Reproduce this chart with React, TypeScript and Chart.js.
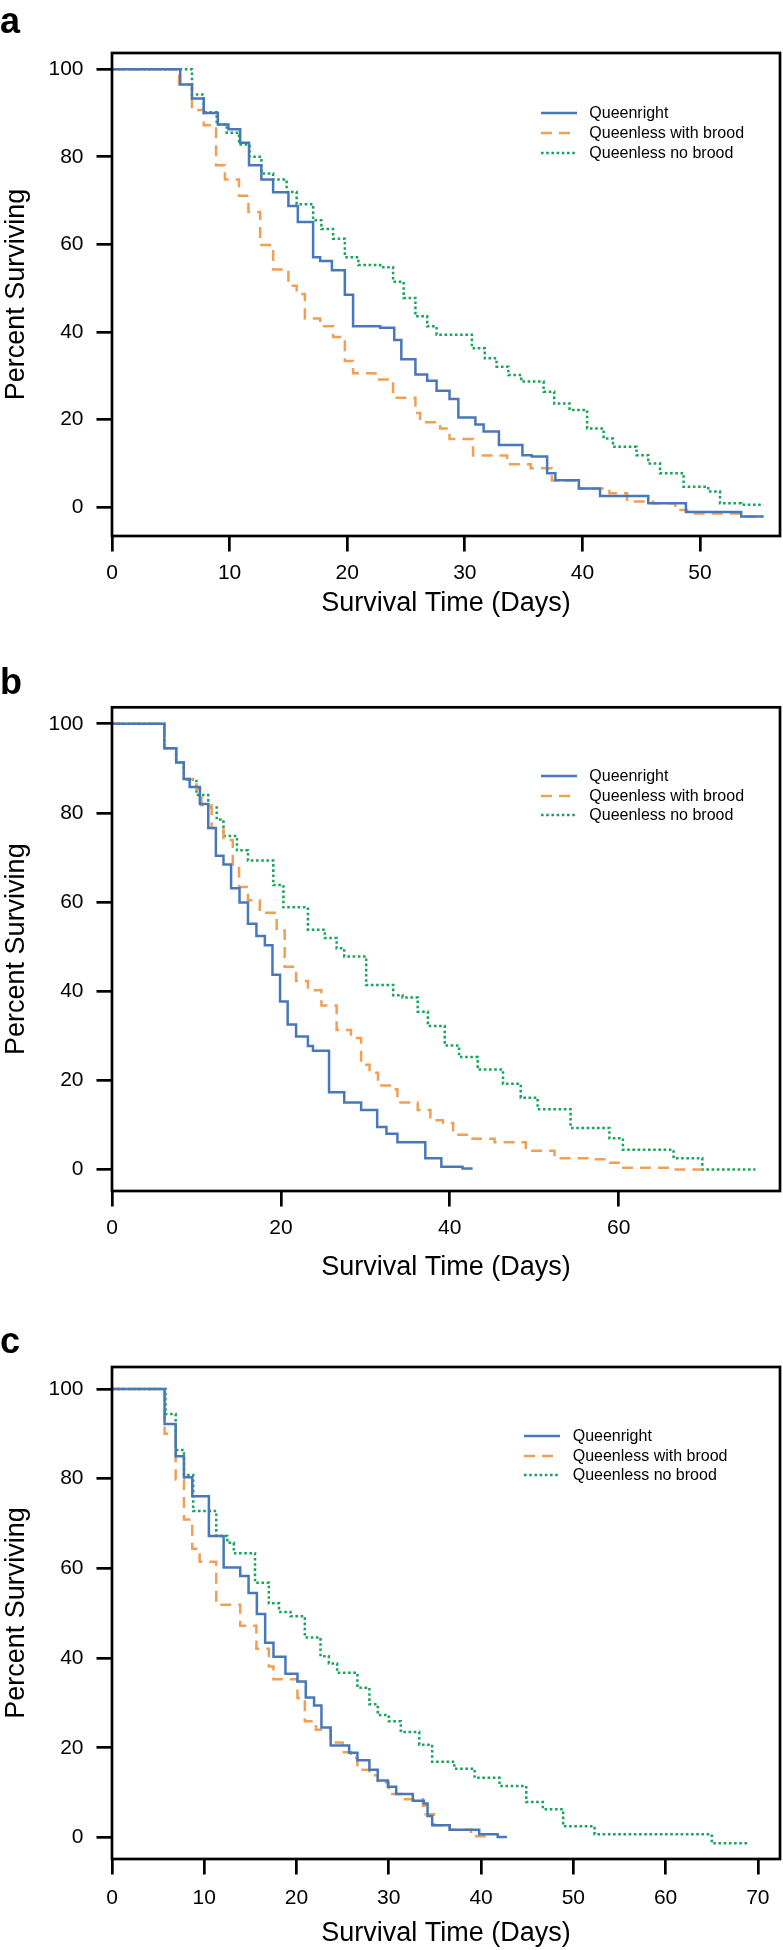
import React, { useEffect, useRef } from 'react';
import { Chart, registerables } from 'chart.js';

Chart.register(...registerables);

const FONT = '"Liberation Sans", Arial, Helvetica, sans-serif';

const seriesNames = ['Queenright', 'Queenless with brood', 'Queenless no brood'];
const seriesColors = ['#4878BA', '#F0A055', '#17A659'];
const seriesDashes: number[][] = [[], [11, 7], [2.6, 2.6]];

const yTickValues = [0, 20, 40, 60, 80, 100];
const xTicksA = [0, 10, 20, 30, 40, 50];
const xTicksB = [0, 20, 40, 60];
const xTicksC = [0, 10, 20, 30, 40, 50, 60, 70];

// ---- Panel a ----
const aQueenrightDays = [0, 5.8, 6.8, 7.8, 9.0, 9.9, 10.9, 11.65, 12.7, 13.7, 15.0, 15.8, 17.1, 17.7, 18.7, 19.8, 20.5, 22.8, 24.0, 24.6, 25.8, 26.8, 27.6, 28.7, 29.45, 30.9, 31.6, 32.9, 34.9, 35.7, 37.0, 37.7, 39.7, 41.5, 45.6, 48.8, 53.5, 55.4];
const aQueenrightPct = [100, 96.5, 93.3, 90.0, 87.4, 86.3, 83.2, 78.1, 74.8, 71.9, 68.8, 65.1, 57.1, 56.2, 54.1, 48.5, 41.3, 41.0, 38.2, 33.8, 30.3, 28.9, 26.6, 24.7, 20.5, 18.9, 17.3, 14.2, 11.9, 11.6, 7.8, 6.2, 4.3, 2.6, 0.9, -1.1, -2.1, -2.1];
const aWithBroodDays = [0, 5.7, 6.8, 7.8, 8.85, 9.6, 10.8, 11.6, 12.6, 13.7, 15.0, 15.7, 16.4, 17.7, 18.8, 19.8, 20.5, 22.4, 23.9, 25.8, 26.2, 27.9, 28.7, 30.7, 33.6, 35.6, 37.4, 39.7, 42.3, 43.8, 46.0, 47.9, 48.9, 53.5, 55.4];
const aWithBroodPct = [100, 96.5, 90.7, 87.2, 78.1, 74.8, 71.1, 67.4, 59.9, 54.3, 50.6, 48.7, 43.1, 41.3, 38.9, 33.4, 30.6, 29.2, 25.0, 21.5, 19.4, 18.0, 15.6, 11.8, 9.8, 8.9, 6.1, 4.3, 3.2, 1.3, 0.9, -0.6, -1.4, -2.1, -2.1];
const aNoBroodDays = [0, 6.8, 7.8, 8.9, 9.75, 10.8, 11.7, 12.7, 13.7, 14.85, 15.7, 17.1, 17.8, 18.8, 19.8, 20.95, 22.8, 23.9, 24.8, 25.8, 26.8, 27.6, 30.6, 31.7, 32.7, 33.7, 34.8, 36.7, 37.6, 38.9, 40.4, 41.8, 42.6, 44.6, 45.6, 46.6, 48.6, 50.7, 51.7, 53.5, 55.4];
const aNoBroodPct = [100, 94.2, 90.2, 87.4, 85.5, 82.8, 80.0, 76.2, 74.8, 72.0, 69.2, 65.5, 63.5, 61.3, 57.1, 55.3, 54.8, 51.5, 47.8, 43.6, 41.3, 39.4, 36.3, 34.0, 32.1, 30.2, 28.7, 26.4, 23.7, 22.2, 18.0, 15.7, 13.8, 11.9, 10.0, 7.8, 4.7, 3.6, 0.9, 0.6, 0.6];

// ---- Panel b ----
const bQueenrightDays = [0, 6.2, 7.6, 8.5, 9.2, 10.4, 11.4, 12.3, 13.2, 14.1, 15.1, 16.1, 17.1, 18.1, 19.0, 19.9, 20.8, 21.8, 23.2, 23.8, 25.7, 27.5, 29.5, 31.4, 32.5, 33.8, 37.1, 39.0, 41.5, 42.7];
const bQueenrightPct = [100, 94.5, 91.3, 87.6, 85.8, 82.0, 76.6, 70.4, 68.4, 63.1, 59.9, 55.1, 52.4, 50.3, 43.7, 37.7, 32.5, 29.8, 27.7, 26.6, 17.3, 15.0, 13.3, 9.5, 8.0, 6.1, 2.5, 0.6, 0.2, 0.2];
const bWithBroodDays = [0, 6.2, 7.6, 8.5, 10.0, 10.6, 11.8, 13.2, 14.3, 15.05, 16.1, 17.5, 19.5, 20.45, 21.8, 23.2, 24.8, 26.6, 28.3, 29.5, 30.5, 31.5, 33.3, 33.8, 36.2, 37.7, 39.2, 40.4, 42.7, 45.3, 49.0, 52.4, 56.5, 58.8, 60.0, 66.0, 69.9];
const bWithBroodPct = [100, 94.5, 91.3, 87.6, 85.3, 81.7, 76.6, 73.9, 68.4, 63.4, 60.4, 57.6, 53.6, 45.5, 42.3, 40.2, 36.8, 31.3, 29.5, 23.5, 21.7, 18.8, 18.0, 15.0, 13.3, 11.0, 10.4, 7.8, 6.9, 6.1, 4.2, 2.5, 2.3, 1.5, 0.35, 0.0, 0.0];
const bNoBroodDays = [0, 6.2, 7.6, 8.5, 10.0, 11.4, 12.4, 13.2, 14.8, 16.1, 19.1, 20.3, 23.2, 25.2, 26.6, 27.5, 30.1, 33.3, 34.4, 36.2, 37.4, 39.4, 41.1, 43.3, 46.3, 48.4, 50.4, 54.3, 58.9, 60.5, 66.5, 69.9, 76.2];
const bNoBroodPct = [100, 94.5, 91.3, 87.5, 84.0, 81.2, 78.5, 74.8, 71.6, 69.3, 63.8, 58.8, 53.8, 51.9, 49.6, 47.8, 41.4, 39.1, 38.6, 35.4, 32.2, 27.8, 25.2, 22.4, 19.2, 16.1, 13.5, 9.3, 7.0, 4.4, 2.5, 0.0, 0.0];

// ---- Panel c ----
const cQueenrightDays = [0, 5.7, 6.9, 7.8, 8.7, 10.5, 12.1, 13.9, 14.8, 15.7, 16.6, 17.5, 18.8, 20.1, 21.0, 21.9, 22.7, 23.7, 25.7, 26.6, 27.9, 28.8, 29.9, 30.8, 32.6, 33.8, 34.2, 34.7, 36.6, 39.8, 41.8, 42.8];
const cQueenrightPct = [100, 92.2, 85.0, 80.3, 76.1, 67.2, 60.2, 58.3, 54.5, 49.8, 43.4, 40.3, 36.5, 34.8, 31.2, 29.4, 24.5, 20.5, 18.9, 17.2, 15.1, 12.7, 11.3, 9.7, 8.2, 7.6, 4.8, 2.7, 1.7, 0.7, 0.1, 0.1];
const cWithBroodDays = [0, 5.7, 6.9, 7.8, 8.7, 9.5, 11.3, 13.9, 15.65, 17.0, 17.5, 20.1, 20.9, 22.1, 23.7, 25.0, 25.9, 26.6, 27.9, 28.8, 30.0, 31.3, 33.7, 34.0, 34.9, 36.6, 38.9, 41.1];
const cWithBroodPct = [100, 90.0, 79.8, 70.9, 64.4, 61.5, 51.9, 47.2, 42.1, 38.1, 35.3, 31.1, 25.9, 24.0, 21.2, 19.0, 17.7, 15.1, 13.9, 12.3, 9.7, 8.5, 7.1, 5.2, 2.7, 1.7, 0.3, 0.3];
const cNoBroodDays = [0, 5.8, 6.9, 7.8, 8.8, 11.3, 12.5, 13.2, 15.5, 17.0, 18.1, 19.35, 20.9, 22.6, 23.5, 24.4, 26.6, 27.9, 28.8, 30.0, 31.3, 33.3, 34.7, 37.1, 39.3, 42.0, 44.9, 46.7, 48.9, 52.3, 65.0, 69.0];
const cNoBroodPct = [100, 94.4, 86.4, 80.8, 72.8, 67.2, 65.7, 63.4, 56.8, 52.2, 50.3, 49.3, 44.6, 40.4, 38.8, 36.7, 33.4, 29.7, 27.3, 25.9, 23.5, 20.7, 16.9, 15.3, 13.3, 11.5, 7.9, 6.3, 2.5, 0.7, -1.3, -1.3];

const boxPlugin = {
  id: 'frameBox',
  afterDatasetsDraw(chart: any) {
    const { ctx, chartArea: a } = chart;
    ctx.save();
    ctx.strokeStyle = '#000';
    ctx.lineWidth = 2.7;
    ctx.setLineDash([]);
    ctx.strokeRect(a.left, a.top, a.right - a.left, a.bottom - a.top);
    ctx.restore();
  },
};

type PanelProps = {
  top: number;
  height: number;
  padTop: number;
  xAxisH: number;
  xMax: number;
  yMin: number;
  yMax: number;
  xTicks: number[];
  tickPadX: number;
  days: number[][];
  pct: number[][];
};

function Panel(p: PanelProps) {
  const ref = useRef<HTMLCanvasElement>(null);
  useEffect(() => {
    const datasets = p.days.map((d, i) => ({
      label: seriesNames[i],
      data: d.map((x, j) => ({ x, y: p.pct[i][j] })),
      borderColor: seriesColors[i],
      backgroundColor: seriesColors[i],
      borderWidth: 2.5,
      borderDash: seriesDashes[i],
      borderCapStyle: 'butt',
      borderJoinStyle: 'miter',
      pointRadius: 0,
      pointHoverRadius: 0,
      stepped: 'before',
      fill: false,
      tension: 0,
    }));
    const chart = new Chart(ref.current as HTMLCanvasElement, {
      type: 'line',
      data: { datasets } as any,
      options: {
        animation: false,
        responsive: false,
        maintainAspectRatio: false,
        devicePixelRatio: 1,
        events: [],
        layout: { padding: { top: p.padTop, right: 3, left: 0, bottom: 0 } },
        plugins: { legend: { display: false }, tooltip: { enabled: false }, title: { display: false } },
        scales: {
          x: {
            type: 'linear',
            min: 0,
            max: p.xMax,
            afterBuildTicks: (s: any) => {
              s.ticks = p.xTicks.map((v) => ({ value: v }));
            },
            afterFit: (s: any) => {
              s.height = p.xAxisH;
            },
            ticks: {
              font: { family: FONT, size: 21 },
              color: '#000',
              padding: p.tickPadX,
              maxRotation: 0,
              autoSkip: false,
              callback: (v: any) => String(v),
            },
            grid: { drawOnChartArea: false, drawTicks: true, tickLength: 15.5, color: '#000', lineWidth: 2.7 },
            border: { display: false },
            title: { display: true, text: 'Survival Time (Days)', font: { family: FONT, size: 27 }, color: '#000', padding: 0 },
          },
          y: {
            type: 'linear',
            min: p.yMin,
            max: p.yMax,
            afterBuildTicks: (s: any) => {
              s.ticks = yTickValues.map((v) => ({ value: v }));
            },
            afterFit: (s: any) => {
              s.width = 112;
            },
            ticks: {
              font: { family: FONT, size: 21 },
              color: '#000',
              padding: 13,
              autoSkip: false,
              callback: (v: any) => String(v),
            },
            grid: { drawOnChartArea: false, drawTicks: true, tickLength: 15.5, color: '#000', lineWidth: 2.7 },
            border: { display: false },
            title: { display: true, text: 'Percent Surviving', font: { family: FONT, size: 27 }, color: '#000', padding: 0 },
          },
        },
      } as any,
      plugins: [boxPlugin],
    });
    return () => chart.destroy();
  }, []);
  return (
    <canvas
      ref={ref}
      width={783}
      height={p.height}
      style={{ position: 'absolute', left: 0, top: p.top, width: 783, height: p.height, display: 'block' }}
    />
  );
}

function Legend({ x1, textX, rows }: { x1: number; textX: number; rows: number[] }) {
  return (
    <>
      {seriesNames.map((name, i) => (
        <div
          key={name}
          style={{
            position: 'absolute',
            left: x1,
            top: rows[i] - 10,
            height: 20,
            width: 260,
            display: 'flex',
            alignItems: 'center',
            zIndex: 2,
          }}
        >
          <svg width={textX - x1} height={20} style={{ flex: 'none', display: 'block' }}>
            <line
              x1={0}
              y1={10}
              x2={36}
              y2={10}
              stroke={seriesColors[i]}
              strokeWidth={2.5}
              strokeDasharray={seriesDashes[i].length ? seriesDashes[i].join(' ') : undefined}
            />
          </svg>
          <span style={{ fontFamily: FONT, fontSize: 16, lineHeight: '20px', color: '#000', whiteSpace: 'nowrap' }}>{name}</span>
        </div>
      ))}
    </>
  );
}

function Letter({ text, top }: { text: string; top: number }) {
  return (
    <div
      style={{
        position: 'absolute',
        left: 0,
        top,
        fontFamily: FONT,
        fontWeight: 'bold',
        fontSize: 36,
        lineHeight: '36px',
        color: '#000',
        zIndex: 2,
      }}
    >
      {text}
    </div>
  );
}

export default function App() {
  return (
    <div style={{ position: 'absolute', left: 0, top: 0, width: 783, height: 1950, background: '#fff', overflow: 'hidden' }}>
      <Panel
        top={0}
        height={620}
        padTop={53}
        xAxisH={84}
        xMax={56.8}
        yMin={-6.55}
        yMax={103.7}
        xTicks={xTicksA}
        tickPadX={9.5}
        days={[aQueenrightDays, aWithBroodDays, aNoBroodDays]}
        pct={[aQueenrightPct, aWithBroodPct, aNoBroodPct]}
      />
      <Panel
        top={640}
        height={644}
        padTop={67.3}
        xAxisH={93}
        xMax={79.1}
        yMin={-4.85}
        yMax={103.7}
        xTicks={xTicksB}
        tickPadX={9}
        days={[bQueenrightDays, bWithBroodDays, bNoBroodDays]}
        pct={[bQueenrightPct, bWithBroodPct, bNoBroodPct]}
      />
      <Panel
        top={1290}
        height={660}
        padTop={77}
        xAxisH={91}
        xMax={72.4}
        yMin={-4.8}
        yMax={104.9}
        xTicks={xTicksC}
        tickPadX={11.5}
        days={[cQueenrightDays, cWithBroodDays, cNoBroodDays]}
        pct={[cQueenrightPct, cWithBroodPct, cNoBroodPct]}
      />
      <Legend x1={540.7} textX={589.3} rows={[113.3, 133.3, 152.7]} />
      <Legend x1={540.7} textX={589.3} rows={[776.3, 796, 815.2]} />
      <Legend x1={524.3} textX={572.7} rows={[1436, 1455.7, 1474.6]} />
      <Letter text="a" top={2.5} />
      <Letter text="b" top={663.5} />
      <Letter text="c" top={1322.5} />
    </div>
  );
}
